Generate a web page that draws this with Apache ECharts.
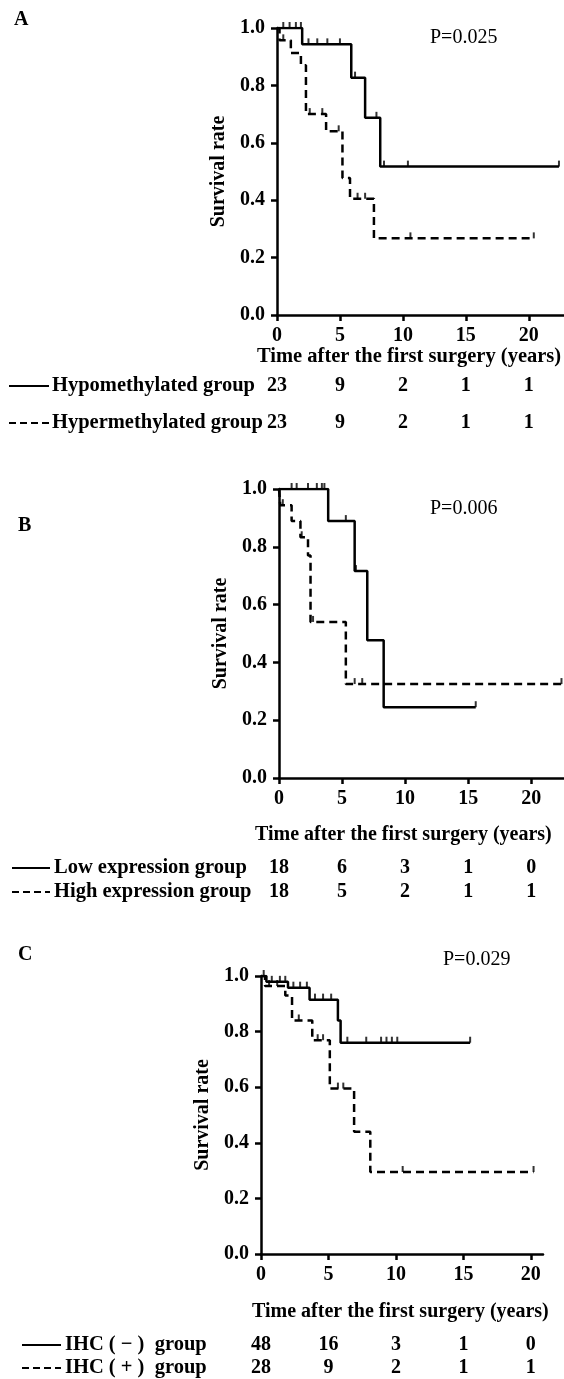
<!DOCTYPE html>
<html>

<head>
    <meta charset="utf-8" />
    <title>Survival curves</title>
    <script src="https://cdn.jsdelivr.net/npm/echarts@6/dist/echarts.min.js"></script>
    <style>
        body {
            margin: 0;
            background: #fff;
        }

        #main {
            width: 564px;
            height: 1379px;
        }
    </style>
</head>

<body>
    <div id="main"></div>
    <script type="text/javascript">
        // tick values on the time axis (years)
        var timeTicks = [0, 5, 10, 15, 20];

        // panel A - methylation
        var hypoTime = [0, 2.0, 5.9, 7.0, 8.2, 22.4];
        var hypoSurv = [1, 0.943, 0.827, 0.687, 0.517, 0.517];
        var hypoCensor = [0.5, 1.0, 1.5, 1.9, 2.5, 3.2, 4.0, 5.0, 6.2, 7.9, 8.5, 10.4, 22.4];
        var hyperTime = [0, 0.2, 1.1, 1.9, 2.3, 3.9, 5.2, 5.8, 7.7, 20.4];
        var hyperSurv = [1, 0.957, 0.913, 0.87, 0.70, 0.64, 0.477, 0.405, 0.267, 0.267];
        var hyperCensor = [0.5, 2.6, 3.6, 4.9, 6.4, 7.0, 10.6, 20.4];
        var hypoRisk = [23, 9, 2, 1, 1];
        var hyperRisk = [23, 9, 2, 1, 1];

        // panel B - expression
        var lowTime = [0, 3.9, 6.0, 7.0, 8.3, 15.6];
        var lowSurv = [1, 0.889, 0.716, 0.477, 0.245, 0.245];
        var lowCensor = [1.0, 1.4, 2.3, 3.0, 3.4, 3.6, 5.3, 6.1, 15.6];
        var highTime = [0, 0.1, 1.0, 1.7, 2.3, 2.5, 5.3, 22.4];
        var highSurv = [1, 0.944, 0.889, 0.833, 0.77, 0.54, 0.325, 0.325];
        var highCensor = [0.3, 1.8, 2.7, 6.0, 6.6, 22.4];
        var lowRisk = [18, 6, 3, 1, 0];
        var highRisk = [18, 5, 2, 1, 1];

        // panel C - IHC
        var negTime = [0, 0.4, 2.0, 3.6, 5.7, 5.9, 15.5];
        var negSurv = [1, 0.979, 0.958, 0.915, 0.84, 0.76, 0.76];
        var negCensor = [0.2, 0.8, 1.4, 1.8, 2.4, 2.9, 3.4, 4.0, 4.6, 5.2, 6.4, 7.8, 8.9, 9.3, 9.7, 10.1, 15.5];
        var posTime = [0, 0.3, 1.8, 2.3, 3.8, 5.1, 6.9, 8.1, 20.2];
        var posSurv = [1, 0.964, 0.93, 0.84, 0.769, 0.595, 0.44, 0.295, 0.295];
        var posCensor = [0.6, 1.2, 2.8, 4.2, 4.6, 5.7, 6.1, 10.5, 20.2];
        var negRisk = [48, 16, 3, 1, 0];
        var posRisk = [28, 9, 2, 1, 1];

        var pValues = ['P=0.025', 'P=0.006', 'P=0.029'];
        var serif = '"Liberation Serif", "Times New Roman", serif';
        var dash = [8, 5];

        var chart = echarts.init(document.getElementById('main'));

        // step value of a curve at time t
        function survAt(times, surv, t) {
            var v = surv[0];
            for (var i = 0; i < times.length; i++) {
                if (times[i] <= t) v = surv[i];
            }
            return v;
        }

        function curve(idx, times, surv, dashed) {
            return {
                type: 'line',
                xAxisIndex: idx,
                yAxisIndex: idx,
                step: 'end',
                symbol: 'none',
                lineStyle: { color: '#000', width: 2.5, type: dashed ? dash : 'solid' },
                data: times.map(function (t, i) { return [t, surv[i]]; })
            };
        }

        function censor(idx, times, surv, marks) {
            return {
                type: 'scatter',
                xAxisIndex: idx,
                yAxisIndex: idx,
                symbol: 'rect',
                symbolSize: [2, 6],
                symbolOffset: [0, -3],
                itemStyle: { color: '#000' },
                data: marks.map(function (t) { return [t, survAt(times, surv, t)]; })
            };
        }

        var xMax = [22.8, 22.6, 20.9];
        var xAxes = [], yAxes = [];
        for (var k = 0; k < 3; k++) {
            xAxes.push({
                type: 'value',
                gridIndex: k,
                min: 0,
                max: xMax[k],
                axisLine: { lineStyle: { color: '#000', width: 2.5 } },
                axisTick: { length: 6, customValues: timeTicks, lineStyle: { color: '#000', width: 2.5 } },
                axisLabel: { customValues: timeTicks, margin: 11, color: '#000', fontSize: 20, fontWeight: 'bold', fontFamily: serif },
                splitLine: { show: false }
            });
            yAxes.push({
                type: 'value',
                gridIndex: k,
                min: 0,
                max: 1,
                interval: 0.2,
                name: 'Survival rate',
                nameLocation: 'middle',
                nameGap: 48,
                nameTextStyle: { color: '#000', fontSize: 20, fontWeight: 'bold', fontFamily: serif },
                axisLine: { show: true, lineStyle: { color: '#000', width: 2.5 } },
                axisTick: { show: true, length: 6, lineStyle: { color: '#000', width: 2.5 } },
                axisLabel: {
                    margin: 12, color: '#000', fontSize: 20, fontWeight: 'bold', fontFamily: serif,
                    formatter: function (v) { return v.toFixed(1); }
                },
                splitLine: { show: false }
            });
        }

        var option = {
            animation: false,
            backgroundColor: '#fff',
            grid: [
                { left: 277, top: 28, width: 287, height: 287, outerBoundsMode: 'none' },
                { left: 279, top: 489, width: 285, height: 289, outerBoundsMode: 'none' },
                { left: 261, top: 976, width: 282, height: 278, outerBoundsMode: 'none' }
            ],
            xAxis: xAxes,
            yAxis: yAxes,
            series: [
                curve(0, hypoTime, hypoSurv, false),
                curve(0, hyperTime, hyperSurv, true),
                censor(0, hypoTime, hypoSurv, hypoCensor),
                censor(0, hyperTime, hyperSurv, hyperCensor),
                curve(1, lowTime, lowSurv, false),
                curve(1, highTime, highSurv, true),
                censor(1, lowTime, lowSurv, lowCensor),
                censor(1, highTime, highSurv, highCensor),
                curve(2, negTime, negSurv, false),
                curve(2, posTime, posSurv, true),
                censor(2, negTime, negSurv, negCensor),
                censor(2, posTime, posSurv, posCensor)
            ]
        };
        chart.setOption(option);

        // labels, p values and number-at-risk tables
        var panels = [
            { letter: 'A', lx: 14, ly: 20, px: 430, py: 38, titleX: 257, titleY: 357, titleSize: 20.5, rowY: [386, 423], lineX: [9, 49], textX: 52,
              rows: [['Hypomethylated group', hypoRisk], ['Hypermethylated group', hyperRisk]] },
            { letter: 'B', lx: 18, ly: 526, px: 430, py: 509, titleX: 255, titleY: 835, titleSize: 20, rowY: [868, 892], lineX: [12, 50], textX: 54,
              rows: [['Low expression group', lowRisk], ['High expression group', highRisk]] },
            { letter: 'C', lx: 18, ly: 955, px: 443, py: 960, titleX: 252, titleY: 1312, titleSize: 20, rowY: [1345, 1368], lineX: [22, 61], textX: 65,
              rows: [['IHC ( \u2212 )  group', negRisk], ['IHC ( + )  group', posRisk]] }
        ];

        function txt(x, y, s, align, bold, size) {
            return {
                type: 'text', x: x, y: y, silent: true,
                style: {
                    text: s, fill: '#000', align: align, verticalAlign: 'middle',
                    fontSize: size || 20, fontWeight: bold ? 'bold' : 'normal', fontFamily: serif
                }
            };
        }

        var els = [];
        panels.forEach(function (p, k) {
            els.push(txt(p.lx, p.ly, p.letter, 'left', true));
            els.push(txt(p.px, p.py, pValues[k], 'left', false));
            els.push(txt(p.titleX, p.titleY, 'Time after the first surgery (years)', 'left', true, p.titleSize));
            p.rows.forEach(function (row, r) {
                var y = p.rowY[r];
                els.push({
                    type: 'line', silent: true,
                    shape: { x1: p.lineX[0], y1: y, x2: p.lineX[1], y2: y },
                    style: { stroke: '#000', lineWidth: 2, lineDash: r === 1 ? [7, 4] : null }
                });
                els.push(txt(p.textX, y, row[0], 'left', true, 20.5));
                row[1].forEach(function (n, i) {
                    var x = chart.convertToPixel({ xAxisIndex: k }, timeTicks[i]);
                    els.push(txt(x, y, String(n), 'center', true));
                });
            });
        });
        chart.setOption({ graphic: els });
    </script>
</body>

</html>
